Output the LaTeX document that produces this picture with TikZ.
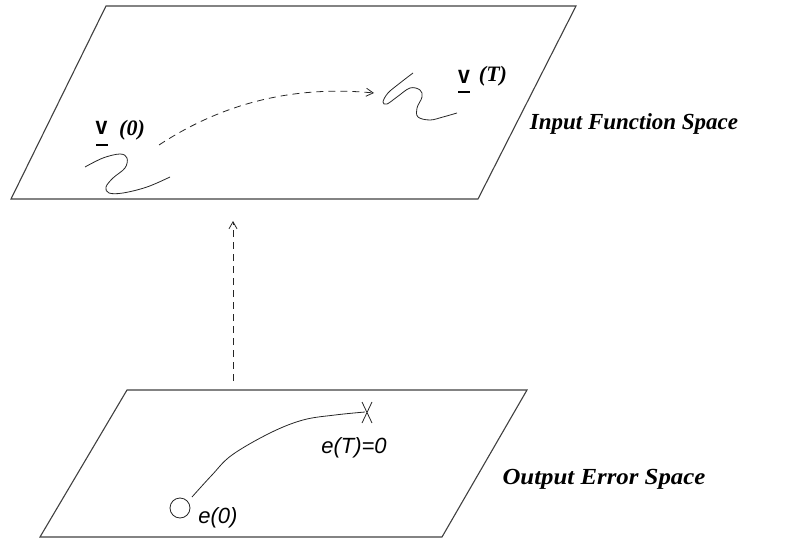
\documentclass[tikz,border=0pt]{standalone}
\usepackage{fontspec}
\setmainfont{Liberation Serif}
\newfontfamily\helv{Liberation Sans}
\usetikzlibrary{arrows.meta}
\begin{document}
\begin{tikzpicture}[x=1pt,y=-1pt,
  plane/.style={draw=black!75,line width=1.1pt,line join=miter},
  curveline/.style={draw=black!85,line width=0.8pt},
  dasharrow/.style={draw=black!85,line width=0.8pt,dash pattern=on 7pt off 5pt,
     -{Straight Barb[length=7pt,width=8pt,line width=0.8pt]}},
  spacelabel/.style={font=\fontsize{23}{25}\selectfont\bfseries\itshape,inner sep=0pt},
  vlabel/.style={font=\fontsize{22}{24}\selectfont\bfseries\itshape,inner sep=0pt},
  vletter/.style={font=\helv\fontsize{25}{26}\selectfont\bfseries,inner sep=0pt,xscale=0.85},
  elabel/.style={font=\helv\fontsize{22}{24}\selectfont\itshape,inner sep=0pt}]
\useasboundingbox (0,0) rectangle (787,540);
% planes
\draw[plane] (106,6) -- (576,6) -- (478,199) -- (11,199) -- cycle;
\draw[plane] (127,390) -- (527,390) -- (442,537) -- (40,537) -- cycle;
% labels
\node[spacelabel] (ifs) at (634,124) {Input Function Space};
\node[spacelabel,xscale=1.08] (oes) at (604,479) {Output Error Space};
% v(0)
\node[vletter] (v0) at (101.5,128) {v};
\draw[line width=2.4pt] (96,145) -- (108,145);
\node[vlabel] (p0) at (132,130) {(0)};
% v(T)
\node[vletter] (vT) at (464,77) {v};
\draw[line width=2.4pt] (458,92) -- (470,92);
\node[vlabel] (pT) at (493,76) {(T)};
% squiggles
\draw[curveline] plot[smooth,tension=0.6] coordinates {(85,167) (103,158) (120,154) (127,158) (125,168) (113,178) (106,187) (109,193) (123,193) (147,187) (170,177)};
\draw[curveline] plot[smooth,tension=0.6] coordinates {(413,73) (400,83) (388,93) (383,102) (387,104) (397,97) (410,88) (420,90) (422,97) (417,108) (418,117) (430,120) (443,117) (457,113)};
% dashed arrows
\coordinate (ds) at (159,145);
\coordinate (de) at (374,93);
\draw[dasharrow] (ds) .. controls (220,105) and (290,85) .. (de);
\coordinate (us) at (233,381);
\coordinate (ue) at (233,221);
\draw[dasharrow] (us) -- (ue);
% error trajectory
\node[draw=black!85,line width=0.8pt,circle,minimum size=20pt,inner sep=0pt] (c0) at (180,508) {};
\coordinate (xc) at (367,412);
\draw[curveline] (c0) plot[smooth,tension=0.6] coordinates {(192,497) (212,475) (232,455) (270,433) (303,420) (335,415) (365,412)};
\draw[curveline] (362,402) -- (372,423) (372,402) -- (362,423);
\node[elabel] (eT) at (354,448) {e(T)=0};
\node[elabel] (e0) at (218,518) {e(0)};
\end{tikzpicture}
\end{document}
